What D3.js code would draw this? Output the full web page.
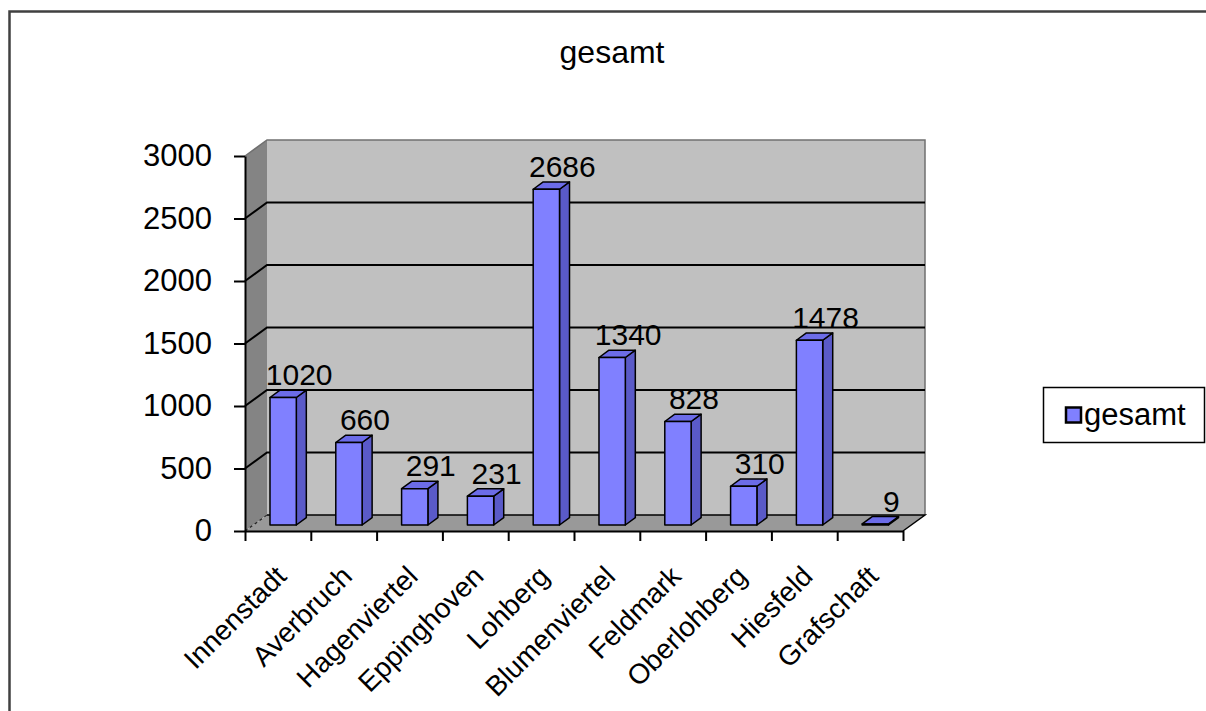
<!DOCTYPE html>
<html>
<head>
<meta charset="utf-8">
<script src="https://cdn.jsdelivr.net/npm/d3@7"></script>
<style>
  body { margin: 0; background: #fff; overflow: hidden; }
  svg { display: block; }
  svg text { font-family: "Liberation Sans", Arial, sans-serif; fill: #000; }
</style>
</head>
<body>
<div id="chart"></div>
<script>
// data
const categories = ["Innenstadt", "Averbruch", "Hagenviertel", "Eppinghoven", "Lohberg",
                    "Blumenviertel", "Feldmark", "Oberlohberg", "Hiesfeld", "Grafschaft"];
const values = [1020, 660, 291, 231, 2686, 1340, 828, 310, 1478, 9];
const yTicks = [0, 500, 1000, 1500, 2000, 2500, 3000];
const seriesName = "gesamt";
const chartTitle = "gesamt";

const W = 1206, H = 711;
// 3d depth offset of the back wall
const DX = 22, DY = -16;
const zFront = 0.375, zBack = 0.83;

const svg = d3.select("#chart").append("svg")
    .attr("width", W).attr("height", H);

// outer frame, only left and top edge are inside the picture
svg.append("path")
    .attr("d", "M9.5," + H + "V11.5H" + W)
    .attr("fill", "none").attr("stroke", "#404040").attr("stroke-width", 2.5);

const x = d3.scaleBand().domain(categories).range([245, 903]).padding(0);
const xIdx = d3.scaleLinear().domain([0, categories.length]).range([245, 903]);
const y = d3.scaleLinear().domain([0, 3000]).range([531, 156]);

function proj(px, py, z) {
    return [px + z * DX, py + z * DY];
}
function pts(arr) { return arr.map(p => p.join(",")).join(" "); }

const x0 = xIdx(0), x1 = xIdx(categories.length);
const yTop = y(3000), yBot = y(0);

// left side wall
svg.append("polygon")
    .attr("points", pts([proj(x0, yTop, 0), proj(x0, yTop, 1), proj(x0, yBot, 1), proj(x0, yBot, 0)]))
    .attr("fill", "#848484");
// back wall
svg.append("polygon")
    .attr("points", pts([proj(x0, yTop, 1), proj(x1, yTop, 1), proj(x1, yBot, 1), proj(x0, yBot, 1)]))
    .attr("fill", "#c0c0c0");
// floor
svg.append("polygon")
    .attr("points", pts([proj(x0, yBot, 0), proj(x1, yBot, 0), proj(x1, yBot, 1), proj(x0, yBot, 1)]))
    .attr("fill", "#999999");

// wall edges at top
svg.append("polyline")
    .attr("points", pts([proj(x0, yTop, 0), proj(x0, yTop, 1), proj(x1, yTop, 1), proj(x1, yBot, 1)]))
    .attr("fill", "none").attr("stroke", "#707070").attr("stroke-width", 1.5);

// gridlines
const grid = yTicks.filter(v => v > 0 && v < 3000);
grid.forEach(v => {
    svg.append("polyline")
        .attr("points", pts([proj(x0, y(v), 0), proj(x0, y(v), 1), proj(x1, y(v), 1)]))
        .attr("fill", "none").attr("stroke", "#000").attr("stroke-width", 2);
});

// floor edges
svg.append("polyline")
    .attr("points", pts([proj(x0, yBot, 1), proj(x1, yBot, 1), proj(x1, yBot, 0)]))
    .attr("fill", "none").attr("stroke", "#000").attr("stroke-width", 1.5);
svg.append("line")
    .attr("x1", proj(x0, yBot, 0)[0]).attr("y1", proj(x0, yBot, 0)[1])
    .attr("x2", proj(x0, yBot, 1)[0]).attr("y2", proj(x0, yBot, 1)[1])
    .attr("stroke", "#222").attr("stroke-width", 1.2).attr("stroke-dasharray", "3,3");

// bars
const barW = x.bandwidth() / 2.5;
const bars = svg.append("g");
categories.forEach((c, i) => {
    const v = values[i];
    const xl = x(c) + (x.bandwidth() - barW) / 2 - 3;
    const xr = xl + barW;
    const y0 = y(0), yv = y(v);
    const g = bars.append("g");
    g.append("polygon")
        .attr("points", pts([proj(xr, y0, zFront), proj(xr, y0, zBack), proj(xr, yv, zBack), proj(xr, yv, zFront)]))
        .attr("fill", "#5a5ac8").attr("stroke", "#000").attr("stroke-width", 1.5).attr("stroke-linejoin", "round");
    g.append("polygon")
        .attr("points", pts([proj(xl, yv, zFront), proj(xr, yv, zFront), proj(xr, yv, zBack), proj(xl, yv, zBack)]))
        .attr("fill", "#6c6ce8").attr("stroke", "#000").attr("stroke-width", 1.5).attr("stroke-linejoin", "round");
    g.append("polygon")
        .attr("points", pts([proj(xl, y0, zFront), proj(xr, y0, zFront), proj(xr, yv, zFront), proj(xl, yv, zFront)]))
        .attr("fill", "#8080ff").attr("stroke", "#000").attr("stroke-width", 1.5).attr("stroke-linejoin", "round");
    const top = proj(xl, yv, zBack);
    g.append("text")
        .attr("x", proj(xl + barW / 2, yv, zFront)[0] + 16)
        .attr("y", top[1] - 5)
        .attr("text-anchor", "middle")
        .attr("font-size", 30)
        .text(v);
});

// y axis
svg.append("g")
    .attr("transform", "translate(" + x0 + ",0)")
    .call(d3.axisLeft(y).tickValues(yTicks).tickFormat(d3.format("d"))
        .tickSize(11).tickSizeOuter(0).tickPadding(22))
    .call(g => g.selectAll("path, line").attr("stroke", "#000").attr("stroke-width", 2))
    .call(g => g.selectAll("text").attr("font-size", 31).attr("font-family", "Liberation Sans, Arial, sans-serif"));

// x axis with ticks on category borders
svg.append("g")
    .attr("transform", "translate(0," + yBot + ")")
    .call(d3.axisBottom(xIdx).tickValues(d3.range(0, categories.length + 1)).tickFormat("").tickSize(10).tickSizeOuter(0))
    .call(g => g.selectAll("path, line").attr("stroke", "#000").attr("stroke-width", 2));

// category labels
svg.append("g").selectAll("text")
    .data(categories)
    .join("text")
    .attr("transform", d => "translate(" + (x(d) + x.bandwidth() / 2 + 10) + "," + 578 + ") rotate(-45)")
    .attr("text-anchor", "end")
    .attr("font-size", 28)
    .text(d => d);

// title
svg.append("text")
    .attr("x", 612).attr("y", 63)
    .attr("text-anchor", "middle")
    .attr("font-size", 32)
    .text(chartTitle);

// legend
const lg = svg.append("g");
lg.append("rect")
    .attr("x", 1043.5).attr("y", 387.5).attr("width", 161).attr("height", 55)
    .attr("fill", "#fff").attr("stroke", "#000").attr("stroke-width", 1.5);
lg.append("rect")
    .attr("x", 1066).attr("y", 407.5).attr("width", 15).attr("height", 15)
    .attr("fill", "#8080ff").attr("stroke", "#000").attr("stroke-width", 2.5);
lg.append("text")
    .attr("x", 1084).attr("y", 425)
    .attr("font-size", 31)
    .text(seriesName);
</script>
</body>
</html>
